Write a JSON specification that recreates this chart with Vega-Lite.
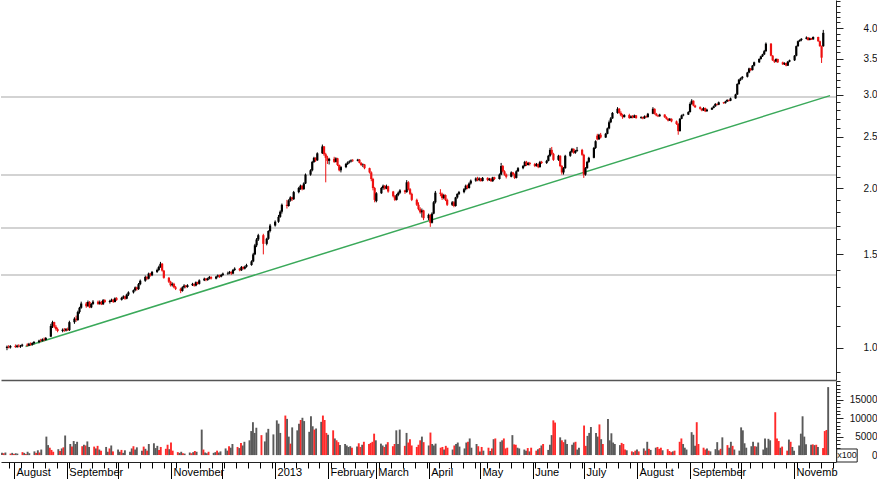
{
"$schema":"https://vega.github.io/schema/vega-lite/v6.json",
"padding":0,
"background":"white",
"spacing":0,
"config":{"view":{"stroke":null},"axis":{"labelFont":"Liberation Sans","labelColor":"#111","tickColor":"#222","domainColor":"#222","grid":false,"title":null}},
"data":{"format":{"parse":{"d":"date:'%Y-%m-%d'"}},"values":[
{"d":"2012-07-25","o":1.000,"h":1.010,"l":0.990,"c":1.005,"v":600},
{"d":"2012-07-26","o":1.005,"h":1.012,"l":0.998,"c":1.002,"v":500},
{"d":"2012-07-27","o":1.002,"h":1.012,"l":0.997,"c":1.008,"v":700},
{"d":"2012-07-30","o":1.008,"h":1.015,"l":1.000,"c":1.004,"v":400},
{"d":"2012-07-31","o":1.004,"h":1.014,"l":1.000,"c":1.010,"v":600},
{"d":"2012-08-01","o":1.010,"h":1.016,"l":1.002,"c":1.006,"v":300},
{"d":"2012-08-02","o":1.006,"h":1.013,"l":1.000,"c":1.009,"v":500},
{"d":"2012-08-03","o":1.009,"h":1.018,"l":1.004,"c":1.014,"v":400},
{"d":"2012-08-06","o":1.014,"h":1.020,"l":1.006,"c":1.010,"v":800},
{"d":"2012-08-07","o":1.010,"h":1.022,"l":1.008,"c":1.018,"v":600},
{"d":"2012-08-08","o":1.018,"h":1.024,"l":1.010,"c":1.014,"v":300},
{"d":"2012-08-09","o":1.014,"h":1.024,"l":1.010,"c":1.021,"v":900},
{"d":"2012-08-10","o":1.021,"h":1.030,"l":1.015,"c":1.026,"v":500},
{"d":"2012-08-13","o":1.026,"h":1.036,"l":1.020,"c":1.032,"v":1000},
{"d":"2012-08-14","o":1.032,"h":1.040,"l":1.026,"c":1.030,"v":600},
{"d":"2012-08-15","o":1.030,"h":1.042,"l":1.028,"c":1.038,"v":1300},
{"d":"2012-08-16","o":1.038,"h":1.046,"l":1.030,"c":1.035,"v":700},
{"d":"2012-08-17","o":1.035,"h":1.048,"l":1.032,"c":1.044,"v":1500},
{"d":"2012-08-20","o":1.050,"h":1.110,"l":1.048,"c":1.100,"v":5000},
{"d":"2012-08-21","o":1.100,"h":1.125,"l":1.090,"c":1.118,"v":2700},
{"d":"2012-08-22","o":1.118,"h":1.120,"l":1.090,"c":1.096,"v":2000},
{"d":"2012-08-23","o":1.096,"h":1.104,"l":1.078,"c":1.085,"v":1400},
{"d":"2012-08-24","o":1.085,"h":1.092,"l":1.070,"c":1.076,"v":900},
{"d":"2012-08-27","o":1.076,"h":1.088,"l":1.070,"c":1.082,"v":1600},
{"d":"2012-08-28","o":1.082,"h":1.090,"l":1.072,"c":1.078,"v":1100},
{"d":"2012-08-29","o":1.078,"h":1.090,"l":1.074,"c":1.085,"v":1800},
{"d":"2012-08-30","o":1.085,"h":1.092,"l":1.076,"c":1.080,"v":2100},
{"d":"2012-08-31","o":1.080,"h":1.125,"l":1.076,"c":1.118,"v":5300},
{"d":"2012-09-03","o":1.118,"h":1.142,"l":1.110,"c":1.135,"v":3000},
{"d":"2012-09-04","o":1.135,"h":1.150,"l":1.120,"c":1.128,"v":2300},
{"d":"2012-09-05","o":1.128,"h":1.175,"l":1.125,"c":1.168,"v":3800},
{"d":"2012-09-06","o":1.168,"h":1.195,"l":1.160,"c":1.190,"v":3000},
{"d":"2012-09-07","o":1.190,"h":1.222,"l":1.185,"c":1.212,"v":3600},
{"d":"2012-09-10","o":1.212,"h":1.220,"l":1.190,"c":1.198,"v":2400},
{"d":"2012-09-11","o":1.198,"h":1.228,"l":1.195,"c":1.220,"v":2800},
{"d":"2012-09-12","o":1.220,"h":1.225,"l":1.188,"c":1.192,"v":2600},
{"d":"2012-09-13","o":1.192,"h":1.215,"l":1.188,"c":1.210,"v":3700},
{"d":"2012-09-14","o":1.210,"h":1.230,"l":1.205,"c":1.222,"v":2200},
{"d":"2012-09-17","o":1.222,"h":1.228,"l":1.205,"c":1.210,"v":2300},
{"d":"2012-09-18","o":1.210,"h":1.228,"l":1.206,"c":1.220,"v":1800},
{"d":"2012-09-19","o":1.220,"h":1.226,"l":1.204,"c":1.208,"v":2500},
{"d":"2012-09-20","o":1.208,"h":1.236,"l":1.205,"c":1.230,"v":1500},
{"d":"2012-09-21","o":1.230,"h":1.235,"l":1.215,"c":1.220,"v":1200},
{"d":"2012-09-24","o":1.220,"h":1.232,"l":1.212,"c":1.226,"v":2200},
{"d":"2012-09-25","o":1.226,"h":1.238,"l":1.220,"c":1.232,"v":900},
{"d":"2012-09-26","o":1.232,"h":1.236,"l":1.215,"c":1.220,"v":1800},
{"d":"2012-09-27","o":1.220,"h":1.245,"l":1.218,"c":1.240,"v":2600},
{"d":"2012-09-28","o":1.240,"h":1.246,"l":1.226,"c":1.232,"v":1000},
{"d":"2012-10-01","o":1.232,"h":1.248,"l":1.228,"c":1.242,"v":1500},
{"d":"2012-10-02","o":1.242,"h":1.256,"l":1.236,"c":1.250,"v":900},
{"d":"2012-10-03","o":1.250,"h":1.254,"l":1.232,"c":1.238,"v":1400},
{"d":"2012-10-04","o":1.238,"h":1.265,"l":1.235,"c":1.260,"v":600},
{"d":"2012-10-05","o":1.260,"h":1.278,"l":1.252,"c":1.272,"v":1300},
{"d":"2012-10-08","o":1.272,"h":1.288,"l":1.266,"c":1.284,"v":900},
{"d":"2012-10-09","o":1.284,"h":1.305,"l":1.278,"c":1.300,"v":1800},
{"d":"2012-10-10","o":1.300,"h":1.304,"l":1.282,"c":1.290,"v":2400},
{"d":"2012-10-11","o":1.290,"h":1.325,"l":1.286,"c":1.318,"v":1500},
{"d":"2012-10-12","o":1.318,"h":1.345,"l":1.312,"c":1.338,"v":2100},
{"d":"2012-10-15","o":1.338,"h":1.368,"l":1.332,"c":1.360,"v":1200},
{"d":"2012-10-16","o":1.360,"h":1.366,"l":1.342,"c":1.350,"v":2300},
{"d":"2012-10-17","o":1.350,"h":1.386,"l":1.346,"c":1.380,"v":1700},
{"d":"2012-10-18","o":1.380,"h":1.384,"l":1.362,"c":1.370,"v":1200},
{"d":"2012-10-19","o":1.370,"h":1.396,"l":1.365,"c":1.390,"v":3000},
{"d":"2012-10-22","o":1.390,"h":1.410,"l":1.384,"c":1.402,"v":3200},
{"d":"2012-10-23","o":1.402,"h":1.428,"l":1.396,"c":1.420,"v":1900},
{"d":"2012-10-24","o":1.420,"h":1.452,"l":1.415,"c":1.440,"v":2500},
{"d":"2012-10-25","o":1.440,"h":1.445,"l":1.392,"c":1.398,"v":1400},
{"d":"2012-10-26","o":1.398,"h":1.402,"l":1.350,"c":1.355,"v":2200},
{"d":"2012-10-29","o":1.355,"h":1.360,"l":1.325,"c":1.332,"v":1700},
{"d":"2012-10-30","o":1.332,"h":1.338,"l":1.305,"c":1.312,"v":2800},
{"d":"2012-10-31","o":1.312,"h":1.328,"l":1.305,"c":1.320,"v":1600},
{"d":"2012-11-01","o":1.320,"h":1.326,"l":1.295,"c":1.300,"v":3400},
{"d":"2012-11-02","o":1.300,"h":1.308,"l":1.285,"c":1.292,"v":1200},
{"d":"2012-11-05","o":1.292,"h":1.298,"l":1.268,"c":1.280,"v":800},
{"d":"2012-11-06","o":1.280,"h":1.306,"l":1.276,"c":1.300,"v":600},
{"d":"2012-11-07","o":1.300,"h":1.318,"l":1.294,"c":1.310,"v":900},
{"d":"2012-11-08","o":1.310,"h":1.314,"l":1.295,"c":1.302,"v":500},
{"d":"2012-11-09","o":1.302,"h":1.318,"l":1.298,"c":1.312,"v":400},
{"d":"2012-11-12","o":1.312,"h":1.326,"l":1.308,"c":1.320,"v":700},
{"d":"2012-11-13","o":1.320,"h":1.322,"l":1.304,"c":1.310,"v":500},
{"d":"2012-11-14","o":1.310,"h":1.334,"l":1.306,"c":1.330,"v":800},
{"d":"2012-11-15","o":1.330,"h":1.332,"l":1.315,"c":1.320,"v":1100},
{"d":"2012-11-16","o":1.320,"h":1.346,"l":1.316,"c":1.340,"v":900},
{"d":"2012-11-19","o":1.340,"h":1.356,"l":1.336,"c":1.350,"v":6900},
{"d":"2012-11-20","o":1.350,"h":1.354,"l":1.335,"c":1.342,"v":1500},
{"d":"2012-11-21","o":1.342,"h":1.356,"l":1.338,"c":1.352,"v":700},
{"d":"2012-11-22","o":1.352,"h":1.366,"l":1.346,"c":1.360,"v":500},
{"d":"2012-11-23","o":1.360,"h":1.364,"l":1.345,"c":1.350,"v":900},
{"d":"2012-11-26","o":1.350,"h":1.366,"l":1.346,"c":1.362,"v":600},
{"d":"2012-11-27","o":1.362,"h":1.375,"l":1.356,"c":1.370,"v":800},
{"d":"2012-11-28","o":1.370,"h":1.374,"l":1.355,"c":1.362,"v":1200},
{"d":"2012-11-29","o":1.362,"h":1.378,"l":1.358,"c":1.372,"v":700},
{"d":"2012-11-30","o":1.372,"h":1.386,"l":1.366,"c":1.380,"v":1000},
{"d":"2012-12-03","o":1.380,"h":1.392,"l":1.372,"c":1.384,"v":1800},
{"d":"2012-12-04","o":1.384,"h":1.396,"l":1.376,"c":1.390,"v":1200},
{"d":"2012-12-05","o":1.390,"h":1.394,"l":1.372,"c":1.380,"v":2400},
{"d":"2012-12-06","o":1.380,"h":1.408,"l":1.376,"c":1.402,"v":2000},
{"d":"2012-12-07","o":1.402,"h":1.418,"l":1.396,"c":1.410,"v":3000},
{"d":"2012-12-10","o":1.410,"h":1.414,"l":1.394,"c":1.400,"v":2200},
{"d":"2012-12-11","o":1.400,"h":1.426,"l":1.396,"c":1.420,"v":1900},
{"d":"2012-12-12","o":1.420,"h":1.424,"l":1.404,"c":1.410,"v":3300},
{"d":"2012-12-13","o":1.410,"h":1.428,"l":1.405,"c":1.422,"v":2600},
{"d":"2012-12-14","o":1.422,"h":1.440,"l":1.416,"c":1.432,"v":3600},
{"d":"2012-12-17","o":1.432,"h":1.462,"l":1.428,"c":1.455,"v":4000},
{"d":"2012-12-18","o":1.455,"h":1.510,"l":1.450,"c":1.500,"v":6500},
{"d":"2012-12-19","o":1.500,"h":1.570,"l":1.495,"c":1.560,"v":8900},
{"d":"2012-12-20","o":1.560,"h":1.610,"l":1.548,"c":1.600,"v":6000},
{"d":"2012-12-21","o":1.600,"h":1.640,"l":1.590,"c":1.630,"v":7400},
{"d":"2012-12-24","o":1.630,"h":1.640,"l":1.500,"c":1.570,"v":5400},
{"d":"2012-12-26","o":1.570,"h":1.612,"l":1.560,"c":1.605,"v":3700},
{"d":"2012-12-27","o":1.605,"h":1.665,"l":1.598,"c":1.660,"v":6100},
{"d":"2012-12-28","o":1.660,"h":1.712,"l":1.650,"c":1.700,"v":7100},
{"d":"2012-12-31","o":1.700,"h":1.738,"l":1.692,"c":1.728,"v":5600},
{"d":"2013-01-02","o":1.728,"h":1.780,"l":1.720,"c":1.765,"v":9400},
{"d":"2013-01-03","o":1.765,"h":1.815,"l":1.758,"c":1.805,"v":8500},
{"d":"2013-01-04","o":1.805,"h":1.870,"l":1.790,"c":1.860,"v":6000},
{"d":"2013-01-07","o":1.860,"h":1.900,"l":1.830,"c":1.850,"v":10700},
{"d":"2013-01-08","o":1.850,"h":1.905,"l":1.845,"c":1.895,"v":9800},
{"d":"2013-01-09","o":1.895,"h":1.930,"l":1.885,"c":1.920,"v":5000},
{"d":"2013-01-10","o":1.920,"h":1.925,"l":1.890,"c":1.905,"v":3100},
{"d":"2013-01-11","o":1.905,"h":1.975,"l":1.900,"c":1.965,"v":7500},
{"d":"2013-01-14","o":1.965,"h":2.010,"l":1.955,"c":2.000,"v":6700},
{"d":"2013-01-15","o":1.990,"h":2.030,"l":1.985,"c":2.020,"v":8500},
{"d":"2013-01-16","o":2.020,"h":2.025,"l":1.980,"c":1.990,"v":9500},
{"d":"2013-01-17","o":1.990,"h":2.050,"l":1.985,"c":2.040,"v":10100},
{"d":"2013-01-18","o":2.040,"h":2.130,"l":2.035,"c":2.120,"v":9200},
{"d":"2013-01-21","o":2.120,"h":2.170,"l":2.110,"c":2.160,"v":6300},
{"d":"2013-01-22","o":2.160,"h":2.250,"l":2.150,"c":2.240,"v":10500},
{"d":"2013-01-23","o":2.240,"h":2.290,"l":2.230,"c":2.280,"v":7800},
{"d":"2013-01-24","o":2.280,"h":2.285,"l":2.240,"c":2.255,"v":6900},
{"d":"2013-01-25","o":2.255,"h":2.335,"l":2.250,"c":2.325,"v":7200},
{"d":"2013-01-28","o":2.325,"h":2.415,"l":2.318,"c":2.395,"v":9000},
{"d":"2013-01-29","o":2.395,"h":2.400,"l":2.300,"c":2.315,"v":10700},
{"d":"2013-01-30","o":2.315,"h":2.330,"l":2.050,"c":2.280,"v":9500},
{"d":"2013-01-31","o":2.280,"h":2.300,"l":2.220,"c":2.250,"v":6000},
{"d":"2013-02-01","o":2.250,"h":2.280,"l":2.215,"c":2.270,"v":5500},
{"d":"2013-02-04","o":2.270,"h":2.290,"l":2.230,"c":2.240,"v":6700},
{"d":"2013-02-05","o":2.240,"h":2.285,"l":2.235,"c":2.275,"v":4500},
{"d":"2013-02-06","o":2.275,"h":2.280,"l":2.200,"c":2.210,"v":4000},
{"d":"2013-02-07","o":2.210,"h":2.215,"l":2.150,"c":2.160,"v":3500},
{"d":"2013-02-08","o":2.160,"h":2.200,"l":2.140,"c":2.190,"v":2700},
{"d":"2013-02-11","o":2.190,"h":2.230,"l":2.180,"c":2.220,"v":3000},
{"d":"2013-02-12","o":2.220,"h":2.245,"l":2.210,"c":2.235,"v":2600},
{"d":"2013-02-13","o":2.235,"h":2.255,"l":2.225,"c":2.245,"v":2200},
{"d":"2013-02-14","o":2.245,"h":2.265,"l":2.235,"c":2.255,"v":2400},
{"d":"2013-02-15","o":2.255,"h":2.268,"l":2.240,"c":2.250,"v":2000},
{"d":"2013-02-18","o":2.250,"h":2.270,"l":2.245,"c":2.262,"v":2300},
{"d":"2013-02-19","o":2.262,"h":2.268,"l":2.225,"c":2.230,"v":3200},
{"d":"2013-02-20","o":2.230,"h":2.238,"l":2.200,"c":2.210,"v":2200},
{"d":"2013-02-21","o":2.210,"h":2.225,"l":2.190,"c":2.215,"v":2800},
{"d":"2013-02-22","o":2.215,"h":2.220,"l":2.170,"c":2.180,"v":3600},
{"d":"2013-02-25","o":2.180,"h":2.185,"l":2.130,"c":2.140,"v":3000},
{"d":"2013-02-26","o":2.140,"h":2.150,"l":2.060,"c":2.080,"v":3300},
{"d":"2013-02-27","o":2.080,"h":2.090,"l":1.980,"c":2.000,"v":3600},
{"d":"2013-02-28","o":2.000,"h":2.010,"l":1.880,"c":1.900,"v":5800},
{"d":"2013-03-01","o":1.890,"h":1.965,"l":1.880,"c":1.955,"v":4000},
{"d":"2013-03-04","o":1.955,"h":2.010,"l":1.950,"c":2.000,"v":3100},
{"d":"2013-03-05","o":2.000,"h":2.030,"l":1.985,"c":2.020,"v":2600},
{"d":"2013-03-06","o":2.020,"h":2.025,"l":1.985,"c":1.995,"v":2200},
{"d":"2013-03-07","o":1.995,"h":2.030,"l":1.990,"c":2.015,"v":2900},
{"d":"2013-03-08","o":2.015,"h":2.020,"l":1.960,"c":1.970,"v":3500},
{"d":"2013-03-11","o":1.970,"h":1.975,"l":1.920,"c":1.930,"v":2400},
{"d":"2013-03-12","o":1.930,"h":1.940,"l":1.890,"c":1.900,"v":3000},
{"d":"2013-03-13","o":1.900,"h":1.950,"l":1.895,"c":1.940,"v":6700},
{"d":"2013-03-14","o":1.940,"h":1.970,"l":1.930,"c":1.960,"v":3000},
{"d":"2013-03-15","o":1.960,"h":1.990,"l":1.950,"c":1.980,"v":6900},
{"d":"2013-03-18","o":1.980,"h":1.985,"l":1.950,"c":1.965,"v":2500},
{"d":"2013-03-19","o":1.965,"h":2.070,"l":1.960,"c":2.050,"v":6000},
{"d":"2013-03-20","o":2.050,"h":2.060,"l":1.980,"c":1.990,"v":3400},
{"d":"2013-03-21","o":1.990,"h":2.000,"l":1.940,"c":1.950,"v":4300},
{"d":"2013-03-22","o":1.950,"h":1.960,"l":1.890,"c":1.900,"v":2600},
{"d":"2013-03-25","o":1.900,"h":1.910,"l":1.850,"c":1.860,"v":2200},
{"d":"2013-03-26","o":1.860,"h":1.880,"l":1.815,"c":1.825,"v":2800},
{"d":"2013-03-27","o":1.825,"h":1.840,"l":1.790,"c":1.800,"v":4000},
{"d":"2013-03-28","o":1.800,"h":1.830,"l":1.760,"c":1.815,"v":5000},
{"d":"2013-03-29","o":1.815,"h":1.820,"l":1.740,"c":1.755,"v":3500},
{"d":"2013-04-01","o":1.755,"h":1.790,"l":1.740,"c":1.780,"v":2600},
{"d":"2013-04-02","o":1.780,"h":1.785,"l":1.690,"c":1.720,"v":6100},
{"d":"2013-04-03","o":1.720,"h":1.800,"l":1.715,"c":1.790,"v":3000},
{"d":"2013-04-04","o":1.790,"h":1.890,"l":1.785,"c":1.880,"v":2600},
{"d":"2013-04-05","o":1.880,"h":1.975,"l":1.870,"c":1.960,"v":3100},
{"d":"2013-04-08","o":1.960,"h":1.990,"l":1.930,"c":1.950,"v":2000},
{"d":"2013-04-09","o":1.950,"h":1.960,"l":1.900,"c":1.915,"v":2200},
{"d":"2013-04-10","o":1.915,"h":1.950,"l":1.905,"c":1.940,"v":1500},
{"d":"2013-04-11","o":1.940,"h":1.945,"l":1.890,"c":1.900,"v":2500},
{"d":"2013-04-12","o":1.900,"h":1.910,"l":1.850,"c":1.860,"v":2000},
{"d":"2013-04-15","o":1.860,"h":1.890,"l":1.850,"c":1.880,"v":1500},
{"d":"2013-04-16","o":1.880,"h":1.890,"l":1.840,"c":1.850,"v":2600},
{"d":"2013-04-17","o":1.850,"h":1.925,"l":1.845,"c":1.920,"v":3000},
{"d":"2013-04-18","o":1.920,"h":1.955,"l":1.910,"c":1.950,"v":3400},
{"d":"2013-04-19","o":1.950,"h":1.975,"l":1.940,"c":1.965,"v":2300},
{"d":"2013-04-22","o":1.965,"h":2.000,"l":1.955,"c":1.990,"v":1800},
{"d":"2013-04-23","o":1.990,"h":2.030,"l":1.980,"c":2.020,"v":3400},
{"d":"2013-04-24","o":2.020,"h":2.030,"l":1.990,"c":2.000,"v":3600},
{"d":"2013-04-25","o":2.000,"h":2.050,"l":1.995,"c":2.040,"v":4500},
{"d":"2013-04-26","o":2.040,"h":2.075,"l":2.030,"c":2.065,"v":2000},
{"d":"2013-04-29","o":2.065,"h":2.095,"l":2.055,"c":2.085,"v":3000},
{"d":"2013-04-30","o":2.085,"h":2.100,"l":2.060,"c":2.070,"v":2400},
{"d":"2013-05-01","o":2.070,"h":2.095,"l":2.060,"c":2.085,"v":1000},
{"d":"2013-05-02","o":2.085,"h":2.090,"l":2.055,"c":2.062,"v":2200},
{"d":"2013-05-03","o":2.062,"h":2.098,"l":2.058,"c":2.090,"v":1200},
{"d":"2013-05-06","o":2.090,"h":2.095,"l":2.060,"c":2.070,"v":2000},
{"d":"2013-05-07","o":2.070,"h":2.090,"l":2.062,"c":2.082,"v":1100},
{"d":"2013-05-08","o":2.082,"h":2.088,"l":2.055,"c":2.060,"v":1800},
{"d":"2013-05-09","o":2.060,"h":2.100,"l":2.055,"c":2.095,"v":4300},
{"d":"2013-05-10","o":2.095,"h":2.100,"l":2.070,"c":2.080,"v":4500},
{"d":"2013-05-13","o":2.080,"h":2.130,"l":2.075,"c":2.120,"v":3600},
{"d":"2013-05-14","o":2.120,"h":2.230,"l":2.115,"c":2.200,"v":4000},
{"d":"2013-05-15","o":2.200,"h":2.210,"l":2.140,"c":2.150,"v":4500},
{"d":"2013-05-16","o":2.150,"h":2.160,"l":2.110,"c":2.120,"v":1800},
{"d":"2013-05-17","o":2.120,"h":2.130,"l":2.085,"c":2.100,"v":2000},
{"d":"2013-05-20","o":2.100,"h":2.150,"l":2.095,"c":2.140,"v":5400},
{"d":"2013-05-21","o":2.140,"h":2.145,"l":2.110,"c":2.120,"v":2900},
{"d":"2013-05-22","o":2.120,"h":2.130,"l":2.080,"c":2.090,"v":2800},
{"d":"2013-05-23","o":2.090,"h":2.160,"l":2.085,"c":2.150,"v":2000},
{"d":"2013-05-24","o":2.150,"h":2.190,"l":2.145,"c":2.180,"v":1800},
{"d":"2013-05-27","o":2.180,"h":2.210,"l":2.170,"c":2.200,"v":1500},
{"d":"2013-05-28","o":2.200,"h":2.250,"l":2.195,"c":2.240,"v":1200},
{"d":"2013-05-29","o":2.240,"h":2.250,"l":2.200,"c":2.210,"v":1900},
{"d":"2013-05-30","o":2.210,"h":2.240,"l":2.205,"c":2.230,"v":1000},
{"d":"2013-05-31","o":2.230,"h":2.240,"l":2.205,"c":2.220,"v":2000},
{"d":"2013-06-03","o":2.220,"h":2.230,"l":2.190,"c":2.200,"v":1200},
{"d":"2013-06-04","o":2.200,"h":2.230,"l":2.195,"c":2.220,"v":1600},
{"d":"2013-06-05","o":2.220,"h":2.225,"l":2.180,"c":2.190,"v":1900},
{"d":"2013-06-06","o":2.190,"h":2.250,"l":2.185,"c":2.240,"v":2600},
{"d":"2013-06-07","o":2.240,"h":2.250,"l":2.220,"c":2.230,"v":3000},
{"d":"2013-06-10","o":2.230,"h":2.260,"l":2.220,"c":2.250,"v":1400},
{"d":"2013-06-11","o":2.250,"h":2.310,"l":2.245,"c":2.300,"v":2800},
{"d":"2013-06-12","o":2.300,"h":2.380,"l":2.290,"c":2.360,"v":5400},
{"d":"2013-06-13","o":2.360,"h":2.390,"l":2.310,"c":2.320,"v":9400},
{"d":"2013-06-14","o":2.320,"h":2.330,"l":2.250,"c":2.260,"v":8800},
{"d":"2013-06-17","o":2.260,"h":2.310,"l":2.250,"c":2.300,"v":4800},
{"d":"2013-06-18","o":2.300,"h":2.305,"l":2.190,"c":2.200,"v":4000},
{"d":"2013-06-19","o":2.200,"h":2.210,"l":2.120,"c":2.140,"v":3500},
{"d":"2013-06-20","o":2.140,"h":2.190,"l":2.120,"c":2.180,"v":4200},
{"d":"2013-06-21","o":2.180,"h":2.310,"l":2.175,"c":2.300,"v":3000},
{"d":"2013-06-24","o":2.300,"h":2.350,"l":2.290,"c":2.340,"v":2800},
{"d":"2013-06-25","o":2.340,"h":2.380,"l":2.330,"c":2.370,"v":3400},
{"d":"2013-06-26","o":2.370,"h":2.375,"l":2.320,"c":2.330,"v":3600},
{"d":"2013-06-27","o":2.330,"h":2.360,"l":2.320,"c":2.350,"v":1500},
{"d":"2013-06-28","o":2.350,"h":2.390,"l":2.340,"c":2.360,"v":2000},
{"d":"2013-07-01","o":2.360,"h":2.370,"l":2.300,"c":2.310,"v":8000},
{"d":"2013-07-02","o":2.310,"h":2.320,"l":2.090,"c":2.120,"v":2500},
{"d":"2013-07-03","o":2.120,"h":2.190,"l":2.110,"c":2.180,"v":5200},
{"d":"2013-07-04","o":2.180,"h":2.250,"l":2.175,"c":2.240,"v":6000},
{"d":"2013-07-05","o":2.240,"h":2.290,"l":2.230,"c":2.280,"v":7600},
{"d":"2013-07-08","o":2.280,"h":2.390,"l":2.275,"c":2.380,"v":6000},
{"d":"2013-07-09","o":2.380,"h":2.460,"l":2.370,"c":2.450,"v":5000},
{"d":"2013-07-10","o":2.510,"h":2.530,"l":2.460,"c":2.470,"v":8300},
{"d":"2013-07-11","o":2.470,"h":2.530,"l":2.465,"c":2.520,"v":4300},
{"d":"2013-07-12","o":2.520,"h":2.540,"l":2.480,"c":2.490,"v":3000},
{"d":"2013-07-15","o":2.490,"h":2.540,"l":2.485,"c":2.530,"v":9800},
{"d":"2013-07-16","o":2.530,"h":2.600,"l":2.525,"c":2.590,"v":4000},
{"d":"2013-07-17","o":2.590,"h":2.680,"l":2.580,"c":2.660,"v":5900},
{"d":"2013-07-18","o":2.660,"h":2.720,"l":2.650,"c":2.705,"v":3400},
{"d":"2013-07-19","o":2.705,"h":2.780,"l":2.700,"c":2.770,"v":3000},
{"d":"2013-07-22","o":2.770,"h":2.840,"l":2.760,"c":2.820,"v":2700},
{"d":"2013-07-23","o":2.820,"h":2.830,"l":2.760,"c":2.770,"v":3300},
{"d":"2013-07-24","o":2.770,"h":2.790,"l":2.730,"c":2.740,"v":3000},
{"d":"2013-07-25","o":2.740,"h":2.760,"l":2.700,"c":2.720,"v":1500},
{"d":"2013-07-26","o":2.720,"h":2.755,"l":2.715,"c":2.745,"v":1300},
{"d":"2013-07-29","o":2.745,"h":2.760,"l":2.700,"c":2.710,"v":1000},
{"d":"2013-07-30","o":2.710,"h":2.740,"l":2.705,"c":2.730,"v":800},
{"d":"2013-07-31","o":2.730,"h":2.745,"l":2.705,"c":2.715,"v":1200},
{"d":"2013-08-01","o":2.715,"h":2.750,"l":2.710,"c":2.740,"v":1500},
{"d":"2013-08-02","o":2.740,"h":2.745,"l":2.700,"c":2.710,"v":1000},
{"d":"2013-08-05","o":2.710,"h":2.730,"l":2.700,"c":2.720,"v":1800},
{"d":"2013-08-06","o":2.720,"h":2.725,"l":2.695,"c":2.705,"v":1200},
{"d":"2013-08-07","o":2.705,"h":2.740,"l":2.700,"c":2.730,"v":3600},
{"d":"2013-08-08","o":2.730,"h":2.740,"l":2.710,"c":2.720,"v":1700},
{"d":"2013-08-09","o":2.720,"h":2.770,"l":2.715,"c":2.760,"v":1400},
{"d":"2013-08-12","o":2.760,"h":2.840,"l":2.755,"c":2.820,"v":2000},
{"d":"2013-08-13","o":2.820,"h":2.825,"l":2.750,"c":2.760,"v":2200},
{"d":"2013-08-14","o":2.760,"h":2.770,"l":2.730,"c":2.740,"v":1700},
{"d":"2013-08-15","o":2.740,"h":2.750,"l":2.720,"c":2.730,"v":2000},
{"d":"2013-08-16","o":2.730,"h":2.760,"l":2.725,"c":2.750,"v":1300},
{"d":"2013-08-19","o":2.750,"h":2.755,"l":2.710,"c":2.720,"v":1600},
{"d":"2013-08-20","o":2.720,"h":2.730,"l":2.690,"c":2.700,"v":1100},
{"d":"2013-08-21","o":2.700,"h":2.710,"l":2.670,"c":2.680,"v":800},
{"d":"2013-08-22","o":2.680,"h":2.710,"l":2.675,"c":2.700,"v":1000},
{"d":"2013-08-23","o":2.700,"h":2.705,"l":2.660,"c":2.670,"v":1200},
{"d":"2013-08-26","o":2.670,"h":2.680,"l":2.630,"c":2.640,"v":3600},
{"d":"2013-08-27","o":2.640,"h":2.650,"l":2.520,"c":2.560,"v":4500},
{"d":"2013-08-28","o":2.560,"h":2.710,"l":2.555,"c":2.700,"v":3000},
{"d":"2013-08-29","o":2.700,"h":2.750,"l":2.695,"c":2.740,"v":2000},
{"d":"2013-08-30","o":2.740,"h":2.760,"l":2.730,"c":2.750,"v":1500},
{"d":"2013-09-02","o":2.750,"h":2.790,"l":2.745,"c":2.780,"v":6200},
{"d":"2013-09-03","o":2.780,"h":2.900,"l":2.775,"c":2.880,"v":5500},
{"d":"2013-09-04","o":2.880,"h":2.940,"l":2.870,"c":2.920,"v":2500},
{"d":"2013-09-05","o":2.920,"h":2.925,"l":2.850,"c":2.860,"v":8900},
{"d":"2013-09-06","o":2.860,"h":2.870,"l":2.830,"c":2.840,"v":3000},
{"d":"2013-09-09","o":2.840,"h":2.850,"l":2.810,"c":2.820,"v":2000},
{"d":"2013-09-10","o":2.820,"h":2.825,"l":2.790,"c":2.800,"v":1500},
{"d":"2013-09-11","o":2.800,"h":2.840,"l":2.795,"c":2.830,"v":1800},
{"d":"2013-09-12","o":2.830,"h":2.835,"l":2.780,"c":2.790,"v":1200},
{"d":"2013-09-13","o":2.790,"h":2.820,"l":2.785,"c":2.810,"v":1000},
{"d":"2013-09-16","o":2.810,"h":2.840,"l":2.805,"c":2.830,"v":1600},
{"d":"2013-09-17","o":2.830,"h":2.860,"l":2.825,"c":2.850,"v":3500},
{"d":"2013-09-18","o":2.850,"h":2.890,"l":2.845,"c":2.880,"v":1300},
{"d":"2013-09-19","o":2.880,"h":2.885,"l":2.860,"c":2.870,"v":1700},
{"d":"2013-09-20","o":2.870,"h":2.910,"l":2.865,"c":2.900,"v":4800},
{"d":"2013-09-23","o":2.900,"h":2.905,"l":2.880,"c":2.890,"v":2700},
{"d":"2013-09-24","o":2.890,"h":2.920,"l":2.885,"c":2.910,"v":2000},
{"d":"2013-09-25","o":2.910,"h":2.940,"l":2.905,"c":2.930,"v":3600},
{"d":"2013-09-26","o":2.930,"h":2.935,"l":2.910,"c":2.920,"v":2500},
{"d":"2013-09-27","o":2.920,"h":2.960,"l":2.915,"c":2.950,"v":1500},
{"d":"2013-09-30","o":2.950,"h":3.010,"l":2.945,"c":3.000,"v":1200},
{"d":"2013-10-01","o":3.000,"h":3.150,"l":2.995,"c":3.140,"v":7500},
{"d":"2013-10-02","o":3.140,"h":3.210,"l":3.130,"c":3.200,"v":6700},
{"d":"2013-10-03","o":3.200,"h":3.230,"l":3.180,"c":3.220,"v":3200},
{"d":"2013-10-04","o":3.220,"h":3.250,"l":3.200,"c":3.240,"v":2000},
{"d":"2013-10-07","o":3.240,"h":3.310,"l":3.230,"c":3.300,"v":2400},
{"d":"2013-10-08","o":3.300,"h":3.370,"l":3.290,"c":3.360,"v":3600},
{"d":"2013-10-09","o":3.360,"h":3.365,"l":3.320,"c":3.335,"v":2400},
{"d":"2013-10-10","o":3.335,"h":3.410,"l":3.330,"c":3.400,"v":2300},
{"d":"2013-10-11","o":3.400,"h":3.460,"l":3.390,"c":3.450,"v":3400},
{"d":"2013-10-14","o":3.450,"h":3.510,"l":3.440,"c":3.500,"v":1500},
{"d":"2013-10-15","o":3.500,"h":3.550,"l":3.490,"c":3.540,"v":4500},
{"d":"2013-10-16","o":3.540,"h":3.580,"l":3.530,"c":3.570,"v":2000},
{"d":"2013-10-17","o":3.570,"h":3.640,"l":3.560,"c":3.620,"v":4400},
{"d":"2013-10-18","o":3.620,"h":3.760,"l":3.610,"c":3.740,"v":4000},
{"d":"2013-10-21","o":3.740,"h":3.750,"l":3.540,"c":3.550,"v":11600},
{"d":"2013-10-22","o":3.550,"h":3.560,"l":3.470,"c":3.480,"v":4500},
{"d":"2013-10-23","o":3.480,"h":3.490,"l":3.440,"c":3.460,"v":3800},
{"d":"2013-10-24","o":3.460,"h":3.510,"l":3.450,"c":3.500,"v":2000},
{"d":"2013-10-25","o":3.500,"h":3.505,"l":3.440,"c":3.450,"v":2300},
{"d":"2013-10-28","o":3.450,"h":3.460,"l":3.410,"c":3.420,"v":1200},
{"d":"2013-10-29","o":3.420,"h":3.450,"l":3.410,"c":3.440,"v":4200},
{"d":"2013-10-30","o":3.440,"h":3.445,"l":3.390,"c":3.400,"v":3600},
{"d":"2013-10-31","o":3.400,"h":3.470,"l":3.395,"c":3.460,"v":2200},
{"d":"2013-11-01","o":3.460,"h":3.490,"l":3.450,"c":3.480,"v":1200},
{"d":"2013-11-04","o":3.480,"h":3.560,"l":3.470,"c":3.550,"v":2600},
{"d":"2013-11-05","o":3.550,"h":3.710,"l":3.540,"c":3.700,"v":5800},
{"d":"2013-11-06","o":3.700,"h":3.790,"l":3.690,"c":3.780,"v":10500},
{"d":"2013-11-07","o":3.780,"h":3.810,"l":3.770,"c":3.800,"v":5000},
{"d":"2013-11-08","o":3.800,"h":3.830,"l":3.780,"c":3.820,"v":2900},
{"d":"2013-11-11","o":3.820,"h":3.860,"l":3.810,"c":3.840,"v":2800},
{"d":"2013-11-12","o":3.840,"h":3.850,"l":3.790,"c":3.800,"v":2900},
{"d":"2013-11-13","o":3.800,"h":3.840,"l":3.795,"c":3.830,"v":2700},
{"d":"2013-11-14","o":3.830,"h":3.835,"l":3.800,"c":3.810,"v":2800},
{"d":"2013-11-15","o":3.810,"h":3.860,"l":3.805,"c":3.850,"v":2200},
{"d":"2013-11-18","o":3.850,"h":3.855,"l":3.770,"c":3.780,"v":1900},
{"d":"2013-11-19","o":3.780,"h":3.790,"l":3.690,"c":3.700,"v":6500},
{"d":"2013-11-20","o":3.700,"h":3.710,"l":3.440,"c":3.520,"v":6800},
{"d":"2013-11-21","o":3.700,"h":3.970,"l":3.690,"c":3.920,"v":18400}
]},
"vconcat":[
{
"width":835,"height":380,
"layer":[
{"data":{"values":[{"g":2.967},{"g":2.117},{"g":1.681},{"g":1.372}]},
 "mark":{"type":"rule","color":"#c4c4c4","strokeWidth":1.5},
 "encoding":{"y":{"field":"g","type":"quantitative","scale":{"type":"log","domain":[0.87,4.52],"nice":false},
   "axis":{"orient":"right","values":[1,1.5,2,2.5,3,3.5,4],"format":".1f","tickSize":7,"labelPadding":34,"labelAlign":"right","labelFontSize":10,"domainColor":"#222","title":null}}}},
{"data":{"values":[{"d":"2012-08-05","p":1.006},{"d":"2013-11-25","p":2.986}],"format":{"parse":{"d":"date:'%Y-%m-%d'"}}},
 "mark":{"type":"line","color":"#3aa95a","strokeWidth":1.5},
 "encoding":{"x":{"field":"d","type":"temporal","scale":{"domain":[{"year":2012,"month":7,"date":24,"hours":10},{"year":2013,"month":11,"date":25,"hours":14}]},"axis":{"labels":false,"ticks":false,"domain":true,"domainColor":"#555","domainWidth":1.5,"title":null}},
   "y":{"field":"p","type":"quantitative","axis":{"orient":"right","values":[0.9,1.0,1.1,1.2,1.3,1.4,1.5,1.6,1.7,1.8,1.9,2.0,2.1,2.2,2.3,2.4,2.5,2.6,2.7,2.8,2.9,3.0,3.1,3.2,3.3,3.4,3.5,3.6,3.7,3.8,3.9,4.0,4.1,4.2,4.3,4.4,4.5],"labels":false,"tickSize":4,"domain":false,"title":null}}}},
{"mark":{"type":"rule","strokeWidth":1},
 "encoding":{"x":{"field":"d","type":"temporal"},"y":{"field":"l","type":"quantitative","axis":null},"y2":{"field":"h"},
   "color":{"condition":{"test":"datum.c >= datum.o","value":"#000000"},"value":"#ee1111"}}},
{"mark":{"type":"bar","width":2.2},
 "encoding":{"x":{"field":"d","type":"temporal"},"y":{"field":"o","type":"quantitative","axis":null},"y2":{"field":"c"},
   "color":{"condition":{"test":"datum.c >= datum.o","value":"#000000"},"value":"#ee1111"}}}
],
"resolve":{"axis":{"y":"independent"}}
},
{
"width":835,"height":81,
"layer":[
{"mark":{"type":"rule","strokeWidth":1.9},
 "encoding":{"x":{"field":"d","type":"temporal","scale":{"domain":[{"year":2012,"month":7,"date":24,"hours":10},{"year":2013,"month":11,"date":25,"hours":14}]},
   "axis":{"orient":"bottom","tickCount":{"interval":"month","step":1},"tickSize":17,"tickColor":"#000","domainColor":"#222","labelAlign":"left","labelBaseline":"top","labelPadding":-13,"labelOffset":2,"labelFlush":false,"labelOverlap":false,"labelFontSize":11,"labelColor":"#000",
   "labelExpr":"month(datum.value)==0 ? timeFormat(datum.value,'%Y') : (month(datum.value)==9 || month(datum.value)==11) ? '' : (year(datum.value)==2013 && month(datum.value)==10) ? 'Novemb' : timeFormat(datum.value,'%B')","title":null}},
   "y":{"field":"v","type":"quantitative","scale":{"domain":[-1870,20050],"nice":false,"zero":false},
   "axis":{"orient":"right","values":[0,5000,10000,15000],"tickSize":7,"labelPadding":34,"labelAlign":"right","labelFontSize":10,"format":"d","domainColor":"#222","title":null}},
   "y2":{"datum":0},
   "color":{"condition":{"test":"datum.c >= datum.o","value":"#5a5a5a"},"value":"#ff2a2a"}}},
{"data":{"values":[{"a":"2013-11-26","b":"2013-12-08","lo":-1870,"hi":1650}],"format":{"parse":{"a":"date:'%Y-%m-%d'","b":"date:'%Y-%m-%d'"}}},
 "mark":{"type":"rect","fill":"white","stroke":"#222","strokeWidth":1},
 "encoding":{"x":{"field":"a","type":"temporal","axis":{"orient":"bottom","tickCount":{"interval":"week","step":1},"tickSize":6,"labels":false,"domain":false,"tickColor":"#000","title":null}},"x2":{"field":"b"},
   "y":{"field":"lo","type":"quantitative","axis":{"orient":"right","values":[1000,2000,3000,4000,6000,7000,8000,9000,11000,12000,13000,14000,16000,17000,18000,19000,20000],"labels":false,"tickSize":4,"domain":false,"title":null}},"y2":{"field":"hi"}}},
{"data":{"values":[{"a":"2013-12-02","t":"x100","y":-110}],"format":{"parse":{"a":"date:'%Y-%m-%d'"}}},
 "mark":{"type":"text","font":"Liberation Sans","fontSize":9,"color":"#111","baseline":"middle","align":"center"},
 "encoding":{"x":{"field":"a","type":"temporal","axis":null},"y":{"field":"y","type":"quantitative","axis":null},"text":{"field":"t"}}}
],
"resolve":{"axis":{"x":"independent","y":"independent"}}
}
]
}
